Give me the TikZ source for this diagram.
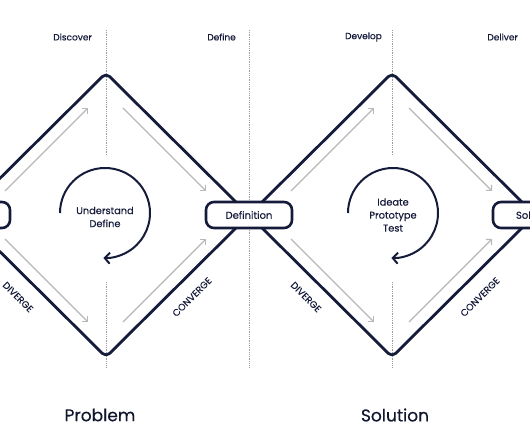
\documentclass[tikz,border=0pt]{standalone}
\usepackage{fontspec}
\setmainfont{Poppins}[UprightFeatures={FakeBold=0.3}]
\usetikzlibrary{arrows.meta}
\definecolor{navy}{HTML}{151B3B}
\definecolor{arrowgray}{HTML}{B8B8B8}
\definecolor{dotgray}{HTML}{9C9C9C}
\begin{document}
\begin{tikzpicture}[x=1pt,y=1pt,
  edge/.style={draw=navy,line width=2.8pt,rounded corners=5pt,line join=round},
  guide/.style={draw=dotgray,line width=0.8pt,dash pattern=on 0.7pt off 1.1pt},
  flow/.style={draw=arrowgray,line width=1.1pt,-{Straight Barb[length=4pt,width=8pt]}},
  cyclearrow/.style={draw=navy,line width=2pt,-{Straight Barb[length=5pt,width=11pt]}},
  stage/.style={draw=navy,line width=2.6pt,rounded corners=8pt,fill=white,minimum width=86pt,minimum height=26pt,inner sep=0pt,font=\fontsize{10}{11}\selectfont,text=navy},
  phase/.style={text=navy,font=\fontsize{9}{11}\selectfont,anchor=east,inner sep=0pt},
  sidelabel/.style={text=navy,font=\fontsize{9.5}{10}\selectfont,inner sep=0pt},
  innertext/.style={text=navy,align=center,font=\fontsize{9.8}{13}\selectfont},
  titletext/.style={text=navy!80!black,font=\fontsize{17}{20}\selectfont}]
\clip (0,0) rectangle (530,442);
\fill[white] (0,0) rectangle (530,442);

% dotted guides
\coordinate (g1a) at (106,412); \coordinate (g1b) at (106,287);
\coordinate (g1c) at (106,160); \coordinate (g1d) at (106,74);
\coordinate (g2a) at (249,412); \coordinate (g2b) at (249,74);
\coordinate (g3a) at (392,412); \coordinate (g3b) at (392,287);
\coordinate (g3c) at (392,160); \coordinate (g3d) at (392,74);
\draw[guide] (g1a) -- (g1b); \draw[guide] (g1c) -- (g1d);
\draw[guide] (g2a) -- (g2b);
\draw[guide] (g3a) -- (g3b); \draw[guide] (g3c) -- (g3d);

% phase labels
\node[phase] (discover) at (92,405) {Discover};
\node[phase] (define) at (236,405) {Define};
\node[phase] (develop) at (382,405) {Develop};
\node[phase] (deliver) at (518,405) {Deliver};

% diamonds
\coordinate (L1) at (-37,227); \coordinate (T1) at (106,369);
\coordinate (R1) at (249,227); \coordinate (B1) at (106,85);
\coordinate (T2) at (392,369); \coordinate (R2) at (535,227);
\coordinate (B2) at (392,85);
\draw[edge] (L1) -- (T1) -- (R1) -- (B1) -- cycle;
\draw[edge] (R1) -- (T2) -- (R2) -- (B2) -- cycle;

% gray flow arrows, diamond 1
\coordinate (a1s) at (5,251);   \coordinate (a1e) at (88,334);
\coordinate (a2s) at (123,334); \coordinate (a2e) at (206,251);
\coordinate (a3s) at (5,203);   \coordinate (a3e) at (88,120);
\coordinate (a4s) at (123,120); \coordinate (a4e) at (206,203);
\draw[flow] (a1s) -- (a1e); \draw[flow] (a2s) -- (a2e);
\draw[flow] (a3s) -- (a3e); \draw[flow] (a4s) -- (a4e);
% gray flow arrows, diamond 2
\coordinate (b1s) at (291,251); \coordinate (b1e) at (374,334);
\coordinate (b2s) at (409,334); \coordinate (b2e) at (492,251);
\coordinate (b3s) at (291,203); \coordinate (b3e) at (374,120);
\coordinate (b4s) at (409,120); \coordinate (b4e) at (492,203);
\draw[flow] (b1s) -- (b1e); \draw[flow] (b2s) -- (b2e);
\draw[flow] (b3s) -- (b3e); \draw[flow] (b4s) -- (b4e);

% cycle arrows
\coordinate (c1) at (60,229);
\draw[cyclearrow] (c1) arc[start angle=180,end angle=-92,radius=45];
\coordinate (c2) at (348,229);
\draw[cyclearrow] (c2) arc[start angle=180,end angle=-92,radius=45];

\node[innertext] (t1) at (105,225) {Understand\\Define};
\node[innertext] (t2) at (393,227) {Ideate\\Prototype\\Test};

% stage boxes
\node[stage] (start) at (-33,227) {};
\node[stage] (definition) at (249,227) {Definition};
\node[stage] (solution) at (536,227) {Solution};

% side labels
\node[sidelabel,rotate=-45] (div1) at (18,145) {DIVERGE};
\node[sidelabel,rotate=45] (con1) at (192,145) {CONVERGE};
\node[sidelabel,rotate=-45] (div2) at (306,145) {DIVERGE};
\node[sidelabel,rotate=45] (con2) at (480,145) {CONVERGE};

% titles
\node[titletext] (problem) at (100,27) {Problem};
\node[titletext] (solutiontitle) at (395,27) {Solution};
\end{tikzpicture}
\end{document}
